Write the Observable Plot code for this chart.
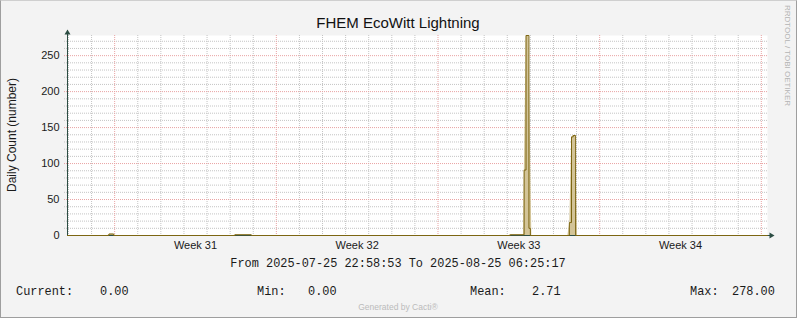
<!DOCTYPE html>
<html><head><meta charset="utf-8">
<script src="https://cdn.jsdelivr.net/npm/d3@7"></script>
<script src="https://cdn.jsdelivr.net/npm/@observablehq/plot@0.6"></script>
<style>
body{margin:0;background:#fff;}
#wrap{position:relative;width:797px;height:318px;background:#f3f3f3;overflow:hidden;}
#wrap svg{position:absolute;left:0;top:0;}
#border{position:absolute;left:0;top:0;width:797px;height:318px;box-sizing:border-box;border:1px solid #9e9e9e;border-top-color:#cfcfcf;pointer-events:none;}
</style></head>
<body><div id="wrap"><div id="border"></div></div>
<script>
// ---- data ----
const title = "FHEM EcoWitt Lightning";
const yLabel = "Daily Count (number)";
const sideLabel = "RRDTOOL / TOBI OETIKER";
const footer = "Generated by Cacti®";
const rangeStart = "2025-07-25T22:58:53Z";
const rangeEnd = "2025-08-25T06:25:17Z";
const rangeText = "From 2025-07-25 22:58:53 To 2025-08-25 06:25:17";
const weekLabels = ["Week 31", "Week 32", "Week 33", "Week 34"];
const weekStarts = ["2025-07-28", "2025-08-04", "2025-08-11", "2025-08-18", "2025-08-25"];
const yTicks = [0, 50, 100, 150, 200, 250];
const yMax = 278;

// dark step line (count per sample)
const lineTimes = ["2025-07-25T22:58:53Z","2025-07-27T18:00Z","2025-07-27T23:00Z","2025-08-02T05:00Z","2025-08-02T22:00Z",
  "2025-08-14T03:00Z","2025-08-14T17:30Z","2025-08-14T19:30Z","2025-08-14T22:30Z","2025-08-15T00:00Z",
  "2025-08-16T16:30Z","2025-08-16T18:45Z","2025-08-16T20:30Z","2025-08-16T23:00Z","2025-08-25T06:25:17Z"];
const lineValues = [0, 2, 0, 1, 0, 1, 91, 278, 10, 0, 18, 137, 139, 0, 0];

// light tan area
const areaTimes = ["2025-07-25T22:58:53Z","2025-07-27T17:00Z","2025-07-27T19:00Z","2025-07-27T23:00Z","2025-07-28T01:00Z",
  "2025-08-02T04:00Z","2025-08-02T05:00Z","2025-08-02T22:00Z","2025-08-02T23:00Z",
  "2025-08-14T02:00Z","2025-08-14T03:00Z","2025-08-14T17:00Z","2025-08-14T17:45Z","2025-08-14T19:45Z","2025-08-14T22:30Z","2025-08-15T01:30Z",
  "2025-08-16T15:00Z","2025-08-16T17:00Z","2025-08-16T19:00Z","2025-08-16T21:00Z","2025-08-16T23:00Z","2025-08-17T01:00Z",
  "2025-08-25T06:25:17Z"];
const areaValues = [0, 0, 2, 2, 0, 0, 1, 1, 0, 0, 1, 1, 91, 278, 278, 0, 0, 18, 137, 139, 139, 0, 0];

const statLabels = ["Current:", "Min:", "Mean:", "Max:"];
const statValues = ["0.00", "0.00", "2.71", "278.00"];

// ---- build ----
const axisColor = "#2c4d43";
const t0 = new Date(rangeStart), t1 = new Date(rangeEnd);
const lineData = lineTimes.map((t, i) => ({date: new Date(t), value: lineValues[i]}));
const areaData = areaTimes.map((t, i) => ({date: new Date(t), value: areaValues[i]}));
const majorX = weekStarts.map(d => new Date(d + "T00:00:00Z"));
const minorX = d3.utcDay.range(d3.utcDay.ceil(t0), t1).filter(d => d.getUTCDay() !== 1);
const labelX = weekStarts.slice(0, weekLabels.length).map(d => d3.utcHour.offset(new Date(d + "T00:00:00Z"), 84));
const yMinor = d3.range(10, yMax, 10).filter(v => v % 50 !== 0);
const yMajor = yTicks.filter(v => v > 0);

const arrowUp = {draw(ctx) { ctx.moveTo(0, -3); ctx.lineTo(3, 2); ctx.lineTo(-3, 2); ctx.closePath(); }};
const arrowRight = {draw(ctx) { ctx.moveTo(3, 0); ctx.lineTo(-2, -3); ctx.lineTo(-2, 3); ctx.closePath(); }};

const chart = Plot.plot({
  width: 797, height: 318,
  marginLeft: 67, marginRight: 30, marginTop: 35, marginBottom: 83,
  style: {background: "transparent", fontFamily: "'Liberation Sans', Arial, sans-serif", fontSize: "11px", color: "#1a1a1a", overflow: "visible"},
  x: {type: "utc", domain: [t0, t1]},
  y: {domain: [0, yMax]},
  marks: [
    Plot.frame({fill: "white", stroke: null}),
    Plot.ruleY(yMinor, {stroke: "#c4c4c4", strokeDasharray: "1,1", insetLeft: -3}),
    Plot.ruleX(minorX, {stroke: "#c4c4c4", strokeDasharray: "1,1"}),
    Plot.ruleY(yMajor, {stroke: "#e9a3a3", strokeDasharray: "1,1", insetLeft: -3}),
    Plot.ruleX(majorX, {stroke: "#e9a3a3", strokeDasharray: "1,1"}),
    Plot.areaY(areaData, {x: "date", y: "value", fill: "#d3c497", curve: "linear"}),
    Plot.ruleX([t0], {stroke: axisColor, insetTop: -5}),
    Plot.ruleY([0], {stroke: axisColor, insetRight: -4}),
    Plot.lineY(lineData, {x: "date", y: "value", stroke: "#7d6612", strokeWidth: 1, curve: "step-after"}),
    Plot.dot([t0], {x: d => d, y: () => yMax, symbol: arrowUp, fill: axisColor, stroke: null, dy: -3}),
    Plot.dot([t1], {x: d => d, y: () => 0, symbol: arrowRight, fill: axisColor, stroke: null, dx: 4}),
    Plot.axisX(labelX, {tickSize: 0, tickPadding: 6, fontSize: 11, label: null,
      tickFormat: d => weekLabels[labelX.findIndex(t => +t === +d)]}),
    Plot.axisY(yTicks, {tickSize: 0, tickPadding: 8, fontSize: 11, label: null})
  ]
});
const wrap = document.getElementById("wrap");
wrap.insertBefore(chart, document.getElementById("border"));

// ---- overlay texts ----
const ns = "http://www.w3.org/2000/svg";
const ov = document.createElementNS(ns, "svg");
ov.setAttribute("width", 797); ov.setAttribute("height", 318);
wrap.insertBefore(ov, document.getElementById("border"));
function txt(s, x, y, attrs) {
  const e = document.createElementNS(ns, "text");
  e.textContent = s;
  e.setAttribute("x", x); e.setAttribute("y", y);
  e.setAttribute("xml:space", "preserve");
  for (const k in attrs) e.setAttribute(k, attrs[k]);
  ov.appendChild(e);
  return e;
}
const sans = "'Liberation Sans', Arial, sans-serif";
const mono = "'Liberation Mono', 'Courier New', monospace";
txt(title, 398, 28, {"text-anchor": "middle", "font-family": sans, "font-size": 15, fill: "#111"});
txt(yLabel, 0, 0, {"text-anchor": "middle", "dominant-baseline": "central", "font-family": sans, "font-size": 12, fill: "#1a1a1a",
  transform: "translate(11.5,135) rotate(-90)"});
txt(sideLabel, 0, 0, {"text-anchor": "start", "dominant-baseline": "central", "font-family": sans, "font-size": 8, fill: "#b3b3b3",
  transform: "translate(787.5,5) rotate(90)"});
txt(rangeText, 398, 267, {"text-anchor": "middle", "font-family": mono, "font-size": 11.9, fill: "#1a1a1a"});
const statLabelX = [16, 257, 470, 690];
const statValueX = [100, 308, 532, 732];
statLabels.forEach((s, i) => {
  txt(s, statLabelX[i], 295, {"font-family": mono, "font-size": 11.9, fill: "#1a1a1a"});
  txt(statValues[i], statValueX[i], 295, {"font-family": mono, "font-size": 11.9, fill: "#1a1a1a"});
});
txt(footer, 398, 310, {"text-anchor": "middle", "font-family": sans, "font-size": 8.5, fill: "#bbbbbb"});
</script>
</body></html>
